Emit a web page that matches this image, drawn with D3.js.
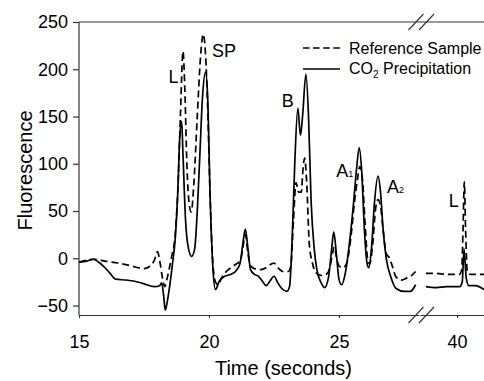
<!DOCTYPE html>
<html>
<head>
<meta charset="utf-8">
<script src="https://cdn.jsdelivr.net/npm/d3@7"></script>
<style>
  body { margin: 0; background: #fff; }
  text { font-family: "Liberation Sans", Arial, sans-serif; fill: #000; }
</style>
</head>
<body>
<script>
// values: [time (s), fluorescence]
const refMain = [
  [15.0, -4], [15.3, -2], [15.6, -1], [16.0, -3], [16.5, -5], [17.0, -8], [17.5, -11],
  [17.7, -9], [17.9, -2], [18.02, 7], [18.12, -5], [18.22, -22], [18.3, -30], [18.4, -20],
  [18.55, 0], [18.7, 25], [18.8, 70], [18.9, 150], [19.0, 219], [19.07, 180], [19.15, 100],
  [19.25, 55], [19.32, 49], [19.42, 80], [19.55, 150], [19.68, 215], [19.78, 237],
  [19.87, 215], [19.95, 160], [20.05, 60], [20.15, -5], [20.25, -25], [20.35, -28],
  [20.5, -20], [20.7, -13], [20.9, -9], [21.05, -6], [21.2, -3], [21.3, 10], [21.4, 25],
  [21.5, 5], [21.6, -8], [21.75, -11], [22.0, -12], [22.2, -10], [22.4, -6], [22.5, -5],
  [22.65, -10], [22.85, -14], [23.05, -14], [23.15, -8], [23.25, 40], [23.35, 80],
  [23.45, 70], [23.55, 70], [23.62, 95], [23.68, 106], [23.76, 80], [23.86, 15],
  [23.98, -5], [24.1, -15], [24.3, -18], [24.5, -17], [24.65, -10], [24.75, 5], [24.82, 12],
  [24.9, 2], [25.0, -8], [25.15, -10], [25.3, -5], [25.45, 20], [25.6, 60], [25.72, 85],
  [25.8, 97], [25.9, 85], [26.0, 40], [26.1, 0], [26.18, -6], [26.3, 15], [26.4, 50],
  [26.5, 62], [26.6, 55], [26.7, 30], [26.82, 5], [26.95, 0], [27.05, -8], [27.2, -20],
  [27.4, -23], [27.6, -21], [27.8, -18], [27.95, -14]
]
const refLate = [
  [38.8, -16], [39.2, -16], [39.6, -17], [40.1, -17], [40.18, -12], [40.23, 30],
  [40.28, 81], [40.33, 30], [40.4, -15], [40.5, -17], [40.8, -17], [41.04, -17]
]
const co2Main = [
  [15.0, -4], [15.3, -3], [15.55, -1], [15.8, -5], [16.0, -10], [16.2, -16], [16.4, -22],
  [16.8, -23], [17.1, -24], [17.5, -27], [17.9, -30], [18.1, -29], [18.18, -26],
  [18.25, -38], [18.32, -55], [18.4, -45], [18.5, -27], [18.6, -5], [18.7, 20], [18.8, 70],
  [18.88, 130], [18.95, 145], [19.0, 110], [19.1, 40], [19.2, 12], [19.33, 2], [19.45, 10],
  [19.55, 50], [19.65, 110], [19.75, 170], [19.87, 197], [19.95, 170], [20.05, 60],
  [20.15, -10], [20.25, -33], [20.4, -24], [20.6, -19], [20.85, -17], [21.05, -13],
  [21.2, -5], [21.3, 15], [21.4, 31], [21.5, 10], [21.6, -12], [21.75, -17], [21.9, -19],
  [22.05, -24], [22.2, -29], [22.35, -24], [22.5, -19], [22.65, -26], [22.8, -32],
  [23.0, -35], [23.1, -30], [23.2, 20], [23.3, 100], [23.42, 159], [23.52, 130],
  [23.6, 150], [23.73, 195], [23.83, 150], [23.93, 60], [24.05, 10], [24.15, -12],
  [24.3, -25], [24.45, -31], [24.6, -20], [24.72, 10], [24.8, 28], [24.9, 5], [25.0, -22],
  [25.1, -28], [25.25, -15], [25.4, 15], [25.55, 55], [25.68, 95], [25.78, 117],
  [25.88, 90], [25.98, 30], [26.08, -5], [26.15, -10], [26.25, 10], [26.37, 60],
  [26.5, 87], [26.6, 70], [26.7, 30], [26.82, 0], [27.0, -20], [27.2, -32], [27.5, -35],
  [27.75, -35], [27.95, -28]
]
const co2Late = [
  [38.8, -30], [39.2, -31], [39.6, -30], [40.1, -30], [40.2, -25], [40.27, 10],
  [40.35, -20], [40.45, -29], [40.7, -29], [40.85, -30], [41.04, -33]
]

const yTicks = [-50, 0, 50, 100, 150, 200, 250]
const xTicksMain = [15, 20, 25]
const xTicksLate = [40]
const seriesNames = ['Reference Sample', 'CO2 Precipitation']
// label anchor in data units (left edge, baseline)
const peakLabels = [
  { t: 18.44, v: 185, text: 'L' },
  { t: 20.12, v: 213, text: 'SP' },
  { t: 22.8, v: 160, text: 'B' },
  { t: 24.9, v: 86, text: 'A', sub: '1' },
  { t: 26.85, v: 69, text: 'A', sub: '2' }
]
const peakLabelsLate = [
  { t: 39.68, v: 54, text: 'L' }
]

const m = { width: 484, height: 381, left: 79, top: 22, bottom: 315, right: 484, gap: 420 }

const svg = d3.select('body').append('svg')
  .attr('width', m.width)
  .attr('height', m.height)

const x1 = d3.scaleLinear().domain([15, 28.08]).range([m.left, m.gap - 1])
const x2 = d3.scaleLinear().domain([38.57, 41.04]).range([m.gap, m.right])
const y = d3.scaleLinear().domain([-60, 250]).range([m.bottom, m.top])

const frame = svg.append('g').attr('stroke', '#333').attr('stroke-width', 1.2)

// top border
frame.append('line')
  .attr('x1', m.left).attr('x2', m.right)
  .attr('y1', m.top).attr('y2', m.top)

// y axis
const yAxis = svg.append('g')
  .attr('transform', `translate(${m.left},0)`)
  .call(d3.axisLeft(y).tickValues(yTicks).tickSizeInner(6).tickSizeOuter(0).tickPadding(5))
yAxis.select('.domain').attr('d', `M0,${m.top}V${m.bottom}`)

// x axis, two pieces
const xAxisA = svg.append('g')
  .attr('transform', `translate(0,${m.bottom})`)
  .call(d3.axisBottom(x1).tickValues(xTicksMain).tickFormat(d3.format('d'))
    .tickSizeInner(3).tickSizeOuter(0).tickPadding(17))
const xAxisB = svg.append('g')
  .attr('transform', `translate(0,${m.bottom})`)
  .call(d3.axisBottom(x2).tickValues(xTicksLate).tickFormat(d3.format('d'))
    .tickSizeInner(3).tickSizeOuter(0).tickPadding(17))

svg.selectAll('.tick text')
  .attr('font-size', 18)
  .attr('font-family', '"Liberation Sans", Arial, sans-serif')
svg.selectAll('.domain, .tick line').attr('stroke', '#333').attr('stroke-width', 1.2)

// axis break slashes
;[m.top, m.bottom].forEach(function(yy) {
  [m.gap - 4, m.gap + 6.5].forEach(function(cx) {
    svg.append('line')
      .attr('x1', cx - 7.5).attr('y1', yy + 8)
      .attr('x2', cx + 7.5).attr('y2', yy - 8)
      .attr('stroke', '#333').attr('stroke-width', 1.1)
  })
})

const line1 = d3.line()
  .x(function(d) { return x1(d[0]) })
  .y(function(d) { return y(d[1]) })
  .curve(d3.curveMonotoneX)
const line2 = d3.line()
  .x(function(d) { return x2(d[0]) })
  .y(function(d) { return y(d[1]) })
  .curve(d3.curveMonotoneX)

const traces = svg.append('g')
  .attr('fill', 'none')
  .attr('stroke', '#000')
  .attr('stroke-width', 1.7)
  .attr('stroke-linejoin', 'round')

traces.append('path').attr('d', line1(co2Main))
traces.append('path').attr('d', line2(co2Late))
traces.append('path').attr('d', line1(refMain)).attr('stroke-dasharray', '7,4')
traces.append('path').attr('d', line2(refLate)).attr('stroke-dasharray', '7,4')

// peak labels
function addLabel(d, xs) {
  const t = svg.append('text')
    .attr('x', xs(d.t))
    .attr('y', y(d.v))
    .attr('font-size', 18)
    .text(d.text)
  if (d.sub) {
    t.append('tspan').attr('font-size', 9).attr('dy', 0).text(d.sub)
  }
}
peakLabels.forEach(function(d) { addLabel(d, x1) })
peakLabelsLate.forEach(function(d) { addLabel(d, x2) })

// legend
const legend = svg.append('g').attr('transform', 'translate(303,48)')
legend.append('line')
  .attr('x1', 0).attr('x2', 37).attr('y1', 0).attr('y2', 0)
  .attr('stroke', '#000').attr('stroke-width', 1.7).attr('stroke-dasharray', '6.5,3.6')
legend.append('line')
  .attr('x1', 0).attr('x2', 37).attr('y1', 21).attr('y2', 21)
  .attr('stroke', '#000').attr('stroke-width', 1.7)
legend.append('text')
  .attr('x', 46).attr('y', 6)
  .attr('font-size', 16)
  .text(seriesNames[0])
const co2Text = legend.append('text')
  .attr('x', 46).attr('y', 26)
  .attr('font-size', 16)
co2Text.append('tspan').text('CO')
co2Text.append('tspan').attr('font-size', 10).attr('dy', 4).text('2')
co2Text.append('tspan').attr('dy', -4).text(' Precipitation')

// axis titles
svg.append('text')
  .attr('x', (m.left + m.right) / 2 + 2)
  .attr('y', 375)
  .attr('text-anchor', 'middle')
  .attr('font-size', 20)
  .text('Time (seconds)')

svg.append('text')
  .attr('transform', `translate(32,${(m.top + m.bottom) / 2 + 2}) rotate(-90)`)
  .attr('text-anchor', 'middle')
  .attr('font-size', 20)
  .text('Fluorescence')
</script>
</body>
</html>
